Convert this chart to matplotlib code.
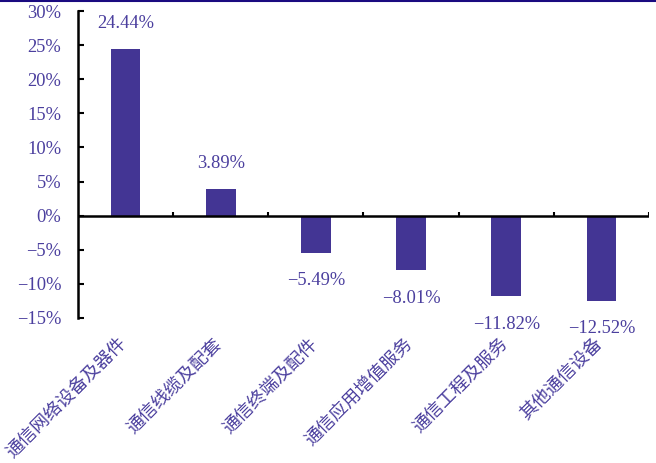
import matplotlib
matplotlib.use("Agg")
import matplotlib.pyplot as plt
from matplotlib.lines import Line2D
from matplotlib.ticker import FuncFormatter

categories = ["通信网络设备及器件", "通信线缆及配套", "通信终端及配件",
              "通信应用增值服务", "通信工程及服务", "其他通信设备"]
values = [24.44, 3.89, -5.49, -8.01, -11.82, -12.52]
yticks = [-15, -10, -5, 0, 5, 10, 15, 20, 25, 30]

bar_color = "#433594"
text_color = "#4B3F9E"

fig = plt.figure(figsize=(6.56, 4.63), dpi=100)
ax = fig.add_axes([78 / 656, 1 - 318 / 463, 571 / 656, 307 / 463])

x = list(range(len(categories)))
ax.bar(x, values, width=0.31, color=bar_color, zorder=2)

ax.set_xlim(-0.5, len(categories) - 0.5)
ax.set_ylim(-15, 30)
ax.set_yticks(yticks)
ax.yaxis.set_major_formatter(FuncFormatter(lambda v, p: f"{v:.0f}%".replace("-", "\u2212")))
for lab in ax.get_yticklabels():
    lab.set_fontfamily("Liberation Serif")
    lab.set_fontsize(13.3)
    lab.set_color(text_color)
ax.tick_params(axis="y", direction="in", length=4, width=1.5, pad=12)

for s in ["top", "right"]:
    ax.spines[s].set_visible(False)
ax.spines["left"].set_linewidth(1.8)
ax.spines["bottom"].set_visible(False)

# zero line with boundary ticks
ax.axhline(0, color="black", lw=1.8, zorder=3)
ax.set_xticks([])
for b in [i + 0.5 for i in x]:
    ax.plot([b, b], [0, 0.6], color="black", lw=1.5, zorder=3, solid_capstyle="butt")

# category labels, rotated
for i, c in enumerate(categories):
    ax.annotate(c, xy=(i, -15), xycoords="data", xytext=(-1, -16.5), textcoords="offset points",
                rotation=45, ha="right", va="center", rotation_mode="anchor",
                fontsize=13, color=text_color,
                family=["Noto Sans CJK SC", "DejaVu Sans"], annotation_clip=False)

# value labels
for i, v in enumerate(values):
    off = 18.5 if v >= 0 else -20
    ax.annotate(f"{v:.2f}%".replace("-", "\u2212"), xy=(i, v), xytext=(0, off),
                textcoords="offset points", ha="center", va="center",
                fontsize=13.3, color=text_color, family="Liberation Serif")

fig.add_artist(Line2D([0, 1], [1 - 0.8 / 463, 1 - 0.8 / 463], transform=fig.transFigure,
                      color="#1A0A80", lw=1.5))

fig.savefig("out.png", dpi=100)
